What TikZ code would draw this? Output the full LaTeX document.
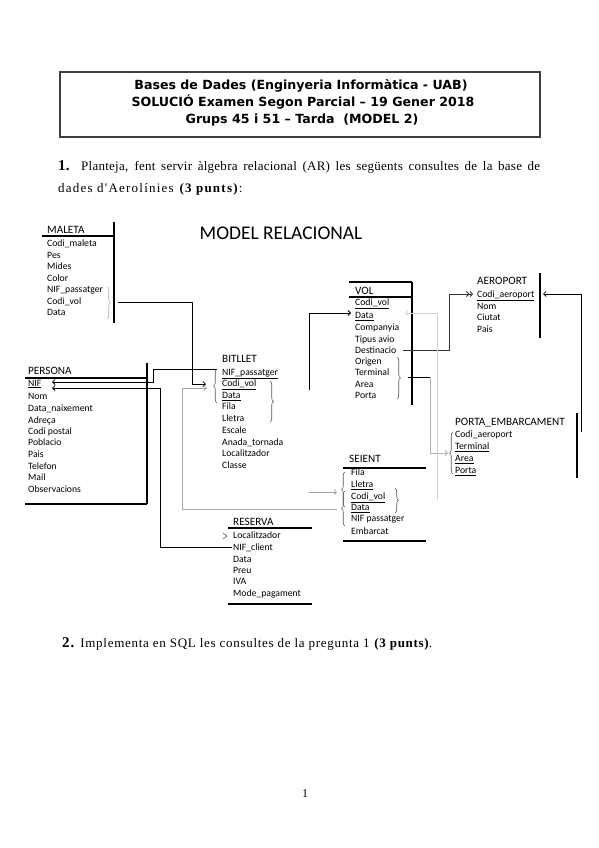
\documentclass[tikz,border=0pt]{standalone}
\usepackage{fontspec}
\setmainfont{Liberation Serif}
\newfontfamily\carlito{Carlito}
\newfontfamily\headfont{DejaVu Sans}
\newfontfamily\qtight[LetterSpace=2]{Liberation Serif}
\newfontfamily\qwide[LetterSpace=9.5]{Liberation Serif}
\newfontfamily\qmid[LetterSpace=5.5]{Liberation Serif}
\usetikzlibrary{arrows.meta, decorations.pathreplacing}

\begin{document}
\begin{tikzpicture}[x=1pt, y=-1pt,
  attr/.style={anchor=west, inner sep=0pt, text height=6.5pt, text depth=2pt, font=\carlito\fontsize{9.7}{10}\selectfont},
  ent/.style={attr, font=\carlito\fontsize{11.2}{12}\selectfont},
  head/.style={inner sep=0pt, font=\headfont\bfseries\fontsize{12.6}{14}\selectfont},
  tline/.style={line width=1.1pt},
  conn/.style={line width=0.8pt, -{Straight Barb[length=2.5pt, width=5pt]}},
  brc/.style={decorate, decoration={brace, amplitude=3.5pt}, gray!70!black, line width=0.6pt}]

  \useasboundingbox[fill=white] (0,0) rectangle (599,848);

  \draw[line width=1.3pt, black!75] (60,72) rectangle (540,137);
  \node[head] (h1) at (301,86) {Bases de Dades (Enginyeria Informàtica - UAB)};
  \node[head] (h2) at (303,102) {SOLUCIÓ Examen Segon Parcial – 19 Gener 2018};
  \node[head] (h3) at (302,120) {Grups 45 i 51 – Tarda\ \ (MODEL 2)};

  \node[anchor=base west, inner sep=0pt, font=\qtight\fontsize{13}{15}\selectfont] (q1a) at (58,170)
    {\makebox[482pt][s]{\textbf{\fontsize{15}{15}\selectfont 1.} Planteja, fent servir àlgebra relacional (AR) les següents consultes de la base de}};
  \node[anchor=base west, inner sep=0pt, font=\qwide\fontsize{13}{15}\selectfont] (q1b) at (58,192) {dades d'Aerolínies \textbf{(3 punts)}:};

  \node[font=\carlito\fontsize{19.4}{21}\selectfont] (model) at (281,233) {MODEL RELACIONAL};

  % MALETA
  \node[ent] (maleta) at (47,231) {MALETA};
  \draw[tline] (42,236) -- (114,236); \draw[tline] (114,222) -- (114,323);
  \node[attr] (mal1) at (47,244) {Codi\_maleta}; \node[attr] (mal2) at (47,256) {Pes};
  \node[attr] (mal3) at (47,267) {Mides}; \node[attr] (mal4) at (47,279) {Color};
  \node[attr] (mal5) at (47,290) {NIF\_passatger}; \node[attr] (mal6) at (47,302) {Codi\_vol};
  \node[attr] (mal7) at (47,313) {Data};
  \draw[brc, gray!60] (107,287) -- (107,319);

  % PERSONA
  \node[ent] (persona) at (28,372) {PERSONA};
  \draw[tline] (25,378) -- (147,378); \draw[tline] (147,363) -- (147,504); \draw[tline] (25,504) -- (147,504);
  \node[attr] (per1) at (28,384) {\underline{NIF}}; \node[attr] (per2) at (28,397) {Nom};
  \node[attr] (per3) at (28,409) {Data\_naixement}; \node[attr] (per4) at (28,421) {Adreça};
  \node[attr] (per5) at (28,432) {Codi postal}; \node[attr] (per6) at (28,443) {Poblacio};
  \node[attr] (per7) at (28,455) {Pais}; \node[attr] (per8) at (28,467) {Telefon};
  \node[attr] (per9) at (28,478) {Mail}; \node[attr] (per10) at (28,490) {Observacions};

  % BITLLET
  \node[ent] (bitllet) at (222,360) {BITLLET};
  \node[attr] (bit1) at (222,373) {\underline{NIF\_passatger}}; \node[attr] (bit2) at (222,384) {\underline{Codi\_vol}};
  \node[attr] (bit3) at (222,396) {\underline{Data}}; \node[attr] (bit4) at (222,407) {Fila};
  \node[attr] (bit5) at (222,419) {Lletra}; \node[attr] (bit6) at (222,431) {Escale};
  \node[attr] (bit7) at (222,443) {Anada\_tornada}; \node[attr] (bit8) at (222,454) {Localitzador};
  \node[attr] (bit9) at (222,466) {Classe};
  \draw[brc] (217,403) -- (217,369);
  \draw[brc] (270,381) -- (270,422);

  % VOL
  \node[ent] (vol) at (355,292) {VOL};
  \draw[tline] (349,282) -- (412,282); \draw[tline] (349,297) -- (412,297); \draw[tline] (412,282) -- (412,405);
  \node[attr] (vol1) at (355,303) {\underline{Codi\_vol}}; \node[attr] (vol2) at (355,316) {\underline{Data}};
  \node[attr] (vol3) at (355,328) {Companyia}; \node[attr] (vol4) at (355,340) {Tipus avio};
  \node[attr] (vol5) at (355,351) {Destinacio}; \node[attr] (vol6) at (355,362) {Origen};
  \node[attr] (vol7) at (355,373) {Terminal}; \node[attr] (vol8) at (355,385) {Area};
  \node[attr] (vol9) at (355,396) {Porta};
  \draw[brc] (397,357) -- (397,399);

  % AEROPORT
  \node[ent] (aeroport) at (477,282) {AEROPORT};
  \draw[tline] (540,273) -- (540,338);
  \node[attr] (aer1) at (477,295) {\underline{Codi\_aeroport}}; \node[attr] (aer2) at (477,307) {Nom};
  \node[attr] (aer3) at (477,318) {Ciutat}; \node[attr] (aer4) at (477,330) {Pais};

  % PORTA_EMBARCAMENT
  \node[ent] (porta) at (455,423) {PORTA\_EMBARCAMENT};
  \draw[tline] (577,413) -- (577,478);
  \node[attr] (por1) at (455,435) {Codi\_aeroport}; \node[attr] (por2) at (455,447) {\underline{Terminal}};
  \node[attr] (por3) at (455,459) {\underline{Area}}; \node[attr] (por4) at (455,471) {\underline{Porta}};
  \draw[brc] (453,474) -- (453,432);

  % SEIENT
  \node[ent] (seient) at (349,460) {SEIENT};
  \draw[tline] (343,468) -- (426,468); \draw[tline] (343,541) -- (426,541);
  \node[attr] (sei1) at (351,473) {Fila}; \node[attr] (sei2) at (351,485) {\underline{Lletra}};
  \node[attr] (sei3) at (351,497) {\underline{Codi\_vol}}; \node[attr] (sei4) at (351,508) {\underline{Data}};
  \node[attr] (sei5) at (351,519) {NIF passatger}; \node[attr] (sei6) at (351,532) {Embarcat};
  \draw[brc] (345,507) -- (345,472); \draw[brc] (345,526) -- (345,491);
  \draw[brc] (395,488) -- (395,513);

  % RESERVA
  \node[ent] (reserva) at (233,523) {RESERVA};
  \draw[tline] (228,528) -- (312,528); \draw[tline] (228,604) -- (312,604);
  \node[attr] (res1) at (233,536) {Localitzador}; \node[attr] (res2) at (233,548) {NIF\_client};
  \node[attr] (res3) at (233,560) {Data}; \node[attr] (res4) at (233,571) {Preu};
  \node[attr] (res5) at (233,582) {IVA}; \node[attr] (res6) at (233,594) {Mode\_pagament};
  \draw[gray!70!black, line width=0.6pt] (223,533) -- (227,536) -- (223,539);

  % ends of the links
  \coordinate (malfk) at (118,302); \coordinate (bitinA) at (206,384); \coordinate (bitinB) at (207,388);
  \coordinate (bitnif) at (217,369); \coordinate (pernifA) at (52,382); \coordinate (pernifB) at (52,388);
  \coordinate (resnif) at (232,547); \coordinate (seiinB) at (337,509); \coordinate (seiinA) at (337,492);
  \coordinate (bitvol) at (309,390); \coordinate (bitsei) at (309,492); \coordinate (volin) at (351,313);
  \coordinate (voldest) at (403,350); \coordinate (aerin) at (473,294); \coordinate (volgate) at (408,377);
  \coordinate (portin) at (448,453); \coordinate (seivol) at (437,500); \coordinate (volfk) at (405,313);
  \coordinate (portaer) at (581,432); \coordinate (aerfk) at (543,294);

  \draw[conn] (malfk) -- ++(74,0) |- (bitinA);
  \draw[conn, gray!70] (seiinB) -- ++(-155,0) |- (bitinB);
  \draw[conn] (bitnif) -- ++(-64,0) |- (pernifA);
  \draw[conn] (resnif) -- ++(-72,0) |- (pernifB);
  \draw[conn] (bitvol) |- (volin);
  \draw[conn, gray!70] (bitsei) -- (seiinA);
  \draw[conn, gray!40!black, -{Straight Barb[length=2.5pt, width=5pt] Straight Barb[length=2.5pt, width=5pt]}] (voldest) -- ++(46,0) |- (aerin);
  \draw[line width=0.8pt] (volgate) -- ++(22,0) coordinate (volturn);
  \draw[conn, gray!60] (volturn) |- (portin);
  \draw[conn, gray!35, line width=0.6pt] (seivol) |- (volfk);
  \draw[conn] (portaer) |- (aerfk);

  \node[anchor=base west, inner sep=0pt, font=\qmid\fontsize{13}{15}\selectfont] (q2) at (62,647)
    {\textbf{\fontsize{15}{15}\selectfont 2.} Implementa en SQL les consultes de la pregunta 1 \textbf{(3 punts)}.};
  \node[anchor=base, inner sep=0pt, font=\fontsize{12}{14}\selectfont] (pagenum) at (305,797) {1};
\end{tikzpicture}
\end{document}
